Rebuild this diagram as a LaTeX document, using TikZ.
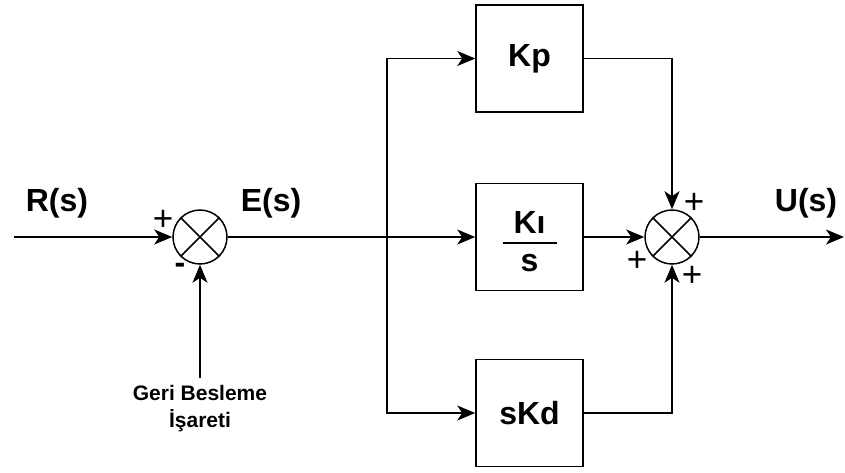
\documentclass[tikz,border=0pt]{standalone}
\usepackage{fontspec}
\setmainfont{Liberation Sans}
\usetikzlibrary{arrows.meta,positioning,calc}

\begin{document}
\begin{tikzpicture}[x=1pt, y=-1pt,
  blk/.style={draw, line width=1.5pt, minimum size=107pt, inner sep=0pt,
              font=\fontsize{32}{36}\selectfont\bfseries},
  sumj/.style={draw, circle, line width=1.5pt, minimum size=54pt, inner sep=0pt},
  arr/.style={-{Stealth[length=18pt, width=15pt, inset=5pt]}, line width=1.5pt},
  ln/.style={line width=1.5pt},
  sig/.style={font=\fontsize{32}{36}\selectfont\bfseries},
  sgn/.style={font=\fontsize{35}{36}\selectfont, inner sep=0pt},
]
\useasboundingbox (0,0) rectangle (845,472);

% summing junctions
\node[sumj] (sum1) at (200,237) {};
\draw[ln] (sum1.north west) -- (sum1.south east) (sum1.north east) -- (sum1.south west);
\node[sumj] (sum2) at (672,237) {};
\draw[ln] (sum2.north west) -- (sum2.south east) (sum2.north east) -- (sum2.south west);

% gain blocks
\node[blk] (kp) at (529.5,58.5) {Kp};
\node[blk] (ki) at (529.5,237) {};
\node[blk] (kd) at (529.5,413) {sKd};
\node[blk, draw=none, minimum size=0pt] (kinum) at (529.5,222) {Kı};
\node[blk, draw=none, minimum size=0pt] (kiden) at (529.5,263) {s};
\draw[ln] ($(ki.center)+(-27,6)$) -- ($(ki.center)+(27,6)$);

% signals
\coordinate (in) at (14,237);
\coordinate (branch) at (387,237);
\coordinate (out) at (844,237);
\node[font=\fontsize{21}{27}\selectfont\bfseries, align=center] (fb) at (200,409)
  {Geri Besleme\\İşareti};

\node[sig] (rs) at (57,203) {R(s)};
\node[sig] (es) at (271,203) {E(s)};
\node[sig] (us) at (806,203) {U(s)};

\node[sgn] (p1) at (163,220) {+};
\node[sgn, font=\fontsize{32}{32}\selectfont\bfseries] (m1) at (180,268) {-};
\node[sgn] (p2) at (694,203) {+};
\node[sgn] (p3) at (637,261) {+};
\node[sgn] (p4) at (692,276) {+};

% connectors
\draw[arr] (in) -- (sum1);
\draw[ln] (sum1) -- (branch);
\draw[arr] (branch) -- (ki);
\draw[arr] (branch) |- (kp);
\draw[arr] (branch) |- (kd);
\draw[arr] (kp) -| (sum2);
\draw[arr] (kd) -| (sum2);
\draw[arr] (ki) -- (sum2);
\draw[arr] (sum2) -- (out);
\draw[arr] ($(fb.north)+(0,-4)$) -- (sum1);
\end{tikzpicture}
\end{document}
